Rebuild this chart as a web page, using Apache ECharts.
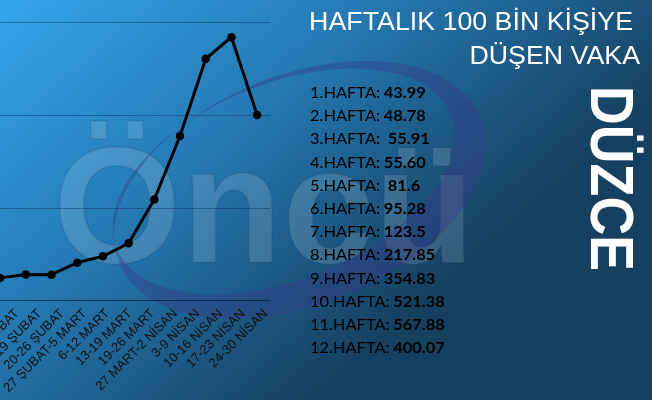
<!DOCTYPE html>
<html><head><meta charset="utf-8">
<script src="https://cdn.jsdelivr.net/npm/echarts@6/dist/echarts.min.js"></script>
<style>html,body{margin:0;padding:0;background:#1d5f8e;overflow:hidden;width:652px;height:400px;position:relative;}
#c{position:absolute;left:-39px;top:0;width:691px;height:400px;}</style>
</head><body><div id="c"></div>
<script>
// ---- data ----
const categories = ['6-12 ŞUBAT','13-19 ŞUBAT','20-26 ŞUBAT','27 ŞUBAT-5 MART','6-12 MART','13-19 MART','19-26 MART','27 MART-2 NİSAN','3-9 NİSAN','10-16 NİSAN','17-23 NİSAN','24-30 NİSAN'];
const cases = [43.99, 48.78, 55.91, 55.60, 81.6, 95.28, 123.5, 217.85, 354.83, 521.38, 567.88, 400.07];
const weekNames = ['1.HAFTA:','2.HAFTA:','3.HAFTA:','4.HAFTA:','5.HAFTA:','6.HAFTA:','7.HAFTA:','8.HAFTA:','9.HAFTA:','10.HAFTA:','11.HAFTA:','12.HAFTA:'];
const caseTexts = ['43.99','48.78',' 55.91','55.60',' 81.6','95.28','123.5','217.85','354.83','521.38','567.88','400.07'];
const yMin = 0, yMax = 600, yStep = 200;
const titleLines = ['HAFTALIK 100 BİN KİŞİYE', 'DÜŞEN VAKA'];
const cityName = 'DÜZCE';
const watermarkText = 'Öncü';

// the chart canvas is shifted left so the first week sits just off the picture
const OFF = 39;

// ---- decoration geometry (swoosh ring) ----
function ringPoints(cx, cy, rot) {
  const pts = [];
  const N = 120;
  const c = Math.cos(rot), s = Math.sin(rot);
  function push(x, y) { pts.push([cx + x * c + y * s, cy - x * s + y * c]); }
  for (let i = 0; i <= N; i++) { const t = i / N * Math.PI * 2; push(195 * Math.cos(t), 115 * Math.sin(t)); }
  for (let i = N; i >= 0; i--) { const t = i / N * Math.PI * 2; push(-12 + 180 * Math.cos(t), -14 + 98 * Math.sin(t)); }
  return pts;
}

const chart = echarts.init(document.getElementById('c'));
const listGraphics = weekNames.map((w, i) => ({
  type: 'text', x: 310 + OFF, y: 85 + i * 23.2, z: 20, scaleX: 1.06,
  style: {
    text: '{a|' + w + '} {b|' + caseTexts[i] + '}',
    verticalAlign: 'top',
    rich: {
      a: { fontFamily: 'Lato', fontSize: 15.5, color: '#111', fontWeight: 'normal' },
      b: { fontFamily: 'Lato', fontSize: 15.5, color: '#111', fontWeight: 'bold' }
    }
  }
}));

chart.setOption({
  animation: false,
  grid: [
    { left: OFF - 38.5, top: 22.3, width: 308.5, bottom: 99.5 },
    { left: OFF - 31.5, top: 22.3, width: 308.5, bottom: 99.5 }
  ],
  xAxis: [
    { type: 'category', gridIndex: 0, data: categories, boundaryGap: true,
      axisTick: { show: false }, axisLabel: { show: false },
      axisLine: { lineStyle: { color: 'rgba(10,30,55,0.6)', width: 1 } } },
    { type: 'category', gridIndex: 1, data: categories, boundaryGap: true,
      axisTick: { show: false }, axisLine: { show: false },
      axisLabel: { rotate: 45, interval: 0, fontSize: 13, color: '#111', margin: 11, fontFamily: 'Liberation Sans' } }
  ],
  yAxis: [
    { type: 'value', gridIndex: 0, min: yMin, max: yMax, interval: yStep,
      axisLabel: { show: false }, axisLine: { show: false }, axisTick: { show: false },
      splitLine: { lineStyle: { color: 'rgba(10,40,80,0.4)', width: 1 } } },
    { type: 'value', gridIndex: 1, min: yMin, max: yMax, show: false }
  ],
  series: [{
    type: 'line', xAxisIndex: 0, yAxisIndex: 0, data: cases,
    symbol: 'circle', symbolSize: 8.5, z: 10,
    lineStyle: { color: '#000', width: 3 },
    itemStyle: { color: '#000' }
  }],
  graphic: [
    { type: 'rect', z: -100, silent: true, shape: { x: 0, y: 0, width: 652 + OFF, height: 400 },
      style: { fill: new echarts.graphic.LinearGradient(0, 0, 0.5, 1, [
        { offset: 0, color: '#36aaf0' }, { offset: 0.5, color: '#257bb5' }, { offset: 1, color: '#164060' }]) } },
    { type: 'text', z: -50, silent: true, left: 52 + OFF, top: 133,
      style: { text: watermarkText, fontFamily: 'Liberation Sans', fontWeight: 'bold', fontSize: 165,
        fill: 'rgba(255,255,255,0.14)', stroke: 'rgba(20,60,100,0.15)', lineWidth: 2 } },
    { type: 'polygon', z: -40, silent: true, shape: { points: ringPoints(300 + OFF, 190, 0.38) },
      style: { fill: 'rgba(55,60,135,0.42)' } },
    { type: 'text', z: 20, x: 633 + OFF, y: 10, scaleX: 1.05,
      style: { text: titleLines[0], fontFamily: 'Liberation Sans', fontSize: 25.5, fill: '#fff', align: 'right', verticalAlign: 'top' } },
    { type: 'text', z: 20, x: 640 + OFF, y: 44, scaleX: 1.05,
      style: { text: titleLines[1], fontFamily: 'Liberation Sans', fontSize: 25.5, fill: '#fff', align: 'right', verticalAlign: 'top' } },
    { type: 'text', z: 20, x: 607.5 + OFF, y: 178.5, rotation: -Math.PI / 2, scaleX: 0.88,
      style: { text: cityName, fontFamily: 'Liberation Sans', fontWeight: 'bold', fontSize: 61,
        fill: '#fff', align: 'center', verticalAlign: 'middle' } }
  ].concat(listGraphics)
});
</script></body></html>
